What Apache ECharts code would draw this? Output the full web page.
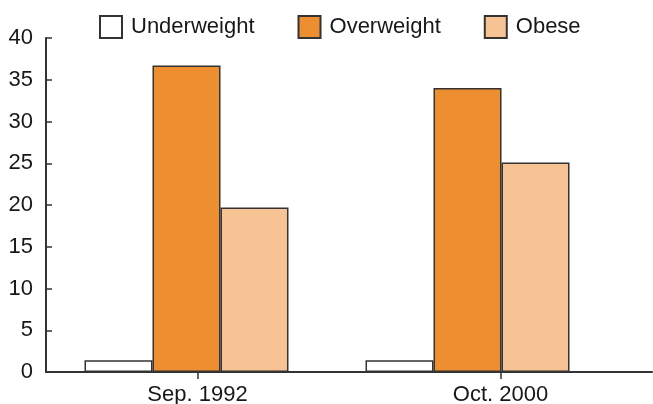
<!DOCTYPE html>
<html>
<head>
<meta charset="utf-8">
<script src="https://cdn.jsdelivr.net/npm/echarts@6/dist/echarts.min.js"></script>
<style>
  html, body { margin: 0; padding: 0; background: #fff; }
  #chart { width: 653px; height: 404px; }
</style>
</head>
<body>
<div id="chart"></div>
<script>
// survey dates
const categories = ['Sep. 1992', 'Oct. 2000'];
// percent of children
const underweight = [1.4, 1.4];
const overweight = [36.7, 34.0];
const obese = [19.7, 25.1];
const yTicks = { min: 0, max: 40, step: 5 };

const ink = '#1a1718';
const font = 'Liberation Sans, Arial, Helvetica, sans-serif';

const myChart = echarts.init(document.getElementById('chart'));

function barSeries(name, data, color) {
  return {
    name: name,
    type: 'bar',
    xAxisIndex: 0,
    yAxisIndex: 0,
    barWidth: 68,
    barGap: '0%',
    itemStyle: {
      color: color,
      borderColor: '#333',
      borderWidth: 1.5
    },
    data: data
  };
}

const option = {
  animation: false,
  textStyle: { fontFamily: font, color: ink },
  legend: {
    left: 94,
    top: 10,
    icon: 'rect',
    itemWidth: 22,
    itemHeight: 22,
    itemGap: 43,
    textStyle: { fontSize: 22, color: ink, padding: [0, 0, 0, 4], fontFamily: font },
    data: ['Underweight', 'Overweight', 'Obese']
  },
  grid: [
    // bars
    { left: 46, right: 45, top: 38, bottom: 32, outerBoundsMode: 'none' },
    // visible x axis
    { left: 46, right: 1, top: 38, bottom: 32, outerBoundsMode: 'none' }
  ],
  xAxis: [
    {
      type: 'category',
      gridIndex: 0,
      data: categories,
      show: false
    },
    {
      type: 'category',
      gridIndex: 1,
      position: 'bottom',
      data: categories,
      z: 10,
      axisLine: { onZero: false, lineStyle: { color: '#333', width: 2 } },
      axisTick: { show: true, inside: false, interval: 0, alignWithLabel: true, length: 7, lineStyle: { color: '#333', width: 1.5 } },
      axisLabel: { fontSize: 22, color: ink, margin: 12, fontFamily: font },
      splitLine: { show: false }
    }
  ],
  yAxis: [
    {
      type: 'value',
      gridIndex: 0,
      min: yTicks.min,
      max: yTicks.max,
      interval: yTicks.step,
      axisLine: { show: true, lineStyle: { color: '#333', width: 2 } },
      axisTick: { show: true, inside: true, length: 6, lineStyle: { color: '#333', width: 1.5 } },
      axisLabel: { fontSize: 22, color: ink, margin: 13, fontFamily: font },
      splitLine: { show: false }
    },
    {
      type: 'value',
      gridIndex: 1,
      min: 0,
      max: 1,
      show: false,
      splitLine: { show: false }
    }
  ],
  series: [
    barSeries('Underweight', underweight, '#ffffff'),
    barSeries('Overweight', overweight, '#ed8e30'),
    barSeries('Obese', obese, '#f7c394'),
    {
      // holder so the label axis has a series
      type: 'line',
      xAxisIndex: 1,
      yAxisIndex: 1,
      silent: true,
      showSymbol: false,
      lineStyle: { opacity: 0 },
      data: []
    }
  ]
};

myChart.setOption(option);
</script>
</body>
</html>
